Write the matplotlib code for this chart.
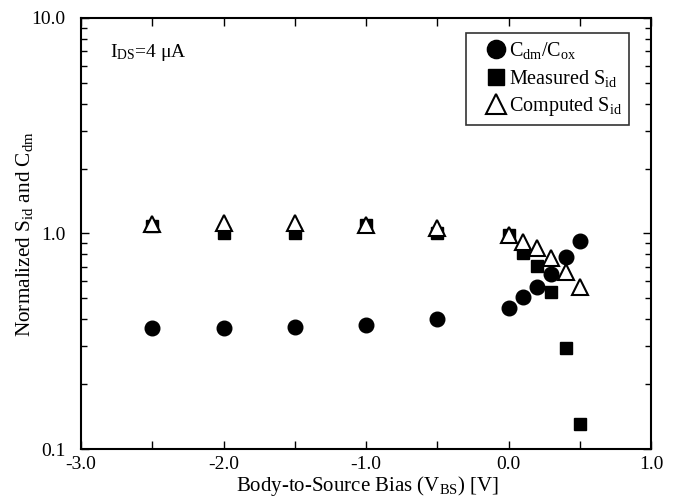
import matplotlib
matplotlib.use('Agg')
from matplotlib import pyplot as plt
from matplotlib.ticker import FixedLocator, FixedFormatter, MultipleLocator, LogLocator, NullFormatter

plt.rcParams['font.family'] = 'Liberation Serif'
plt.rcParams['mathtext.fontset'] = 'custom'
plt.rcParams['mathtext.rm'] = 'Liberation Serif'
plt.rcParams['mathtext.it'] = 'Liberation Serif:italic'

# body bias points
vbs = [-2.5, -2.0, -1.5, -1.0, -0.5, 0.0, 0.1, 0.2, 0.3, 0.4, 0.5]

# Cdm/Cox
cdm = [0.363, 0.363, 0.367, 0.376, 0.40, 0.45, 0.506, 0.563, 0.649, 0.776, 0.923]
# measured Sid (normalized)
sid_meas = [1.08, 1.0, 1.0, 1.09, 1.0, 0.984, 0.815, 0.707, 0.537, 0.293, 0.131]
# computed Sid (normalized)
sid_comp = [1.107, 1.12, 1.12, 1.095, 1.057, 0.984, 0.916, 0.854, 0.767, 0.665, 0.566]

fig = plt.figure(figsize=(6.77, 4.98), dpi=100)
ax = fig.add_axes([81/677, 1-449/498, 570/677, 431/498])

ax.plot(vbs, cdm, 'o', color='black', ms=10.5, label=r'C$_\mathrm{dm}$/C$_\mathrm{ox}$')
ax.plot(vbs, sid_meas, 's', color='black', ms=9, label=r'Measured S$_\mathrm{id}$')
ax.plot(vbs, sid_comp, '^', mfc='white', mec='black', mew=1.5, ms=11, label=r'Computed S$_\mathrm{id}$')

ax.set_yscale('log')
ax.set_xlim(-3.0, 1.0)
ax.set_ylim(0.1, 10.0)

ax.xaxis.set_major_locator(FixedLocator([-3, -2, -1, 0, 1]))
ax.xaxis.set_major_formatter(FixedFormatter(['-3.0', '-2.0', '-1.0', '0.0', '1.0']))
ax.xaxis.set_minor_locator(MultipleLocator(0.5))
ax.yaxis.set_major_locator(FixedLocator([0.1, 1.0, 10.0]))
ax.yaxis.set_major_formatter(FixedFormatter(['0.1', '1.0', '10.0']))
ax.yaxis.set_minor_locator(LogLocator(base=10, subs=range(2, 10)))
ax.yaxis.set_minor_formatter(NullFormatter())

ax.tick_params(which='both', direction='in', top=True, right=True, labelsize=14)
ax.tick_params(which='major', length=6, width=1)
ax.tick_params(which='minor', length=4, width=1)
ax.tick_params(axis='x', which='minor', length=6)
ax.tick_params(axis='x', pad=5)
ax.tick_params(axis='y', pad=11)
for s in ax.spines.values():
    s.set_linewidth(1.5)

ax.set_xlabel(r'Body-to-Source Bias (V$_\mathrm{BS}$) [V]', fontsize=15)
ax.xaxis.set_label_coords(0.503, -0.058)
ax.set_ylabel(r'Normalized S$_\mathrm{id}$ and C$_\mathrm{dm}$', fontsize=15.3)
ax.yaxis.set_label_coords(-0.08, 0.5)

ax.text(0.05, 0.92, r'I$_\mathrm{DS}$=4 $\mathrm{\mu}$A', transform=ax.transAxes, fontsize=14, va='center')

leg = ax.legend(loc='upper right', bbox_to_anchor=(0.961, 0.965), fontsize=14.5, frameon=True,
                fancybox=False, edgecolor='black', handlelength=2.2, handletextpad=-0.45,
                borderpad=0.35, labelspacing=0.33, borderaxespad=0, markerscale=1.25)
leg.get_frame().set_linewidth(1.2)

fig.savefig('out.png', dpi=100)
